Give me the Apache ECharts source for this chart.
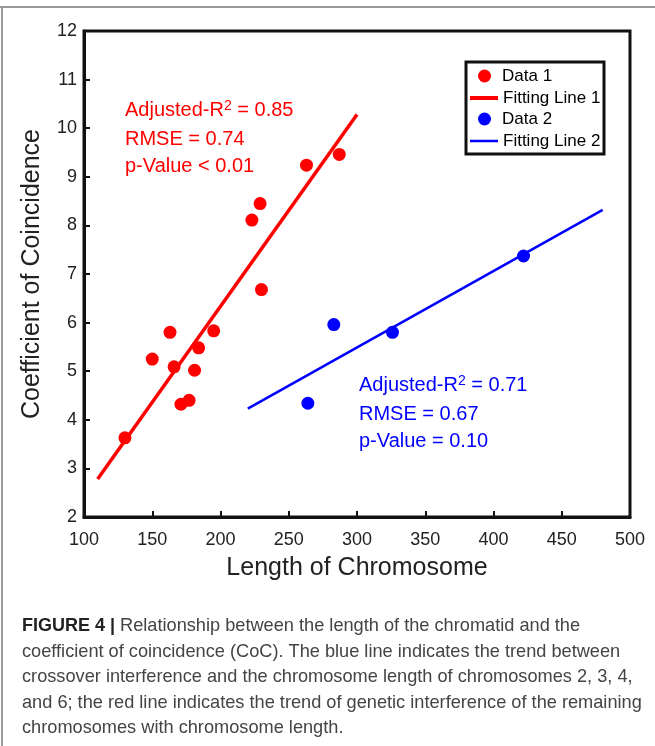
<!DOCTYPE html>
<html>
<head>
<meta charset="UTF-8">
<title>Coefficient of Coincidence vs Length of Chromosome</title>
<script src="https://cdn.jsdelivr.net/npm/echarts@6/dist/echarts.min.js"></script>
<style>
  html, body { margin: 0; padding: 0; background: #fff; }
  #main { width: 655px; height: 746px; }
</style>
</head>
<body>
<div id="main"></div>
<script>
// values
var data1 = [
  [130, 3.63], [150, 5.25], [163, 5.80], [166, 5.09], [171, 4.32],
  [177, 4.40], [181, 5.02], [184, 5.48], [195, 5.83], [223, 8.11],
  [229, 8.45], [230, 6.68], [263, 9.24], [287, 9.46]
];
var data2 = [[264, 4.34], [283, 5.96], [326, 5.80], [422, 7.37]];
var fit1 = [[110, 2.78], [300, 10.28]];
var fit2 = [[220, 4.23], [480, 8.32]];

var stats1 = ['0.85', '0.74', '< 0.01'];
var stats2 = ['0.71', '0.67', '= 0.10'];

var caption = [
  'Relationship between the length of the chromatid and the',
  'coefficient of coincidence (CoC). The blue line indicates the trend between',
  'crossover interference and the chromosome length of chromosomes 2, 3, 4,',
  'and 6; the red line indicates the trend of genetic interference of the remaining',
  'chromosomes with chromosome length.'
];

var FONT = "'Liberation Sans', Arial, sans-serif";
var myChart = echarts.init(document.getElementById('main'));

// red / blue fit statistics
function statsText(x, y, vals, color) {
  var rich = {
    n: { fontSize: 20, lineHeight: 22, fontFamily: FONT, fill: color },
    s: { fontSize: 14, lineHeight: 14, fontFamily: FONT, fill: color, verticalAlign: 'top' }
  };
  return [
    { type: 'text', x: x, y: y, style: { text: '{n|Adjusted-R}{s|2}{n| = ' + vals[0] + '}', rich: rich, verticalAlign: 'middle' } },
    { type: 'text', x: x, y: y + 29, style: { text: 'RMSE = ' + vals[1], fontSize: 20, fontFamily: FONT, fill: color, verticalAlign: 'middle' } },
    { type: 'text', x: x, y: y + 56, style: { text: 'p-Value ' + vals[2], fontSize: 20, fontFamily: FONT, fill: color, verticalAlign: 'middle' } }
  ];
}

var graphics = [
  { type: 'line', shape: { x1: 0, y1: 7, x2: 655, y2: 7 }, style: { stroke: '#9a9a9a', lineWidth: 2 } },
  { type: 'line', shape: { x1: 2, y1: 7, x2: 2, y2: 746 }, style: { stroke: '#9a9a9a', lineWidth: 2 } },
  // legend frame
  { type: 'rect', shape: { x: 466, y: 62, width: 138, height: 92 }, style: { fill: 'none', stroke: '#111', lineWidth: 3 } }
];
graphics = graphics.concat(statsText(125, 110, stats1, '#ff0000'));
graphics = graphics.concat(statsText(359, 385, stats2, '#0000ff'));

for (var i = 0; i < caption.length; i++) {
  var txt = i === 0 ? '{b|FIGURE 4 | }{n|' + caption[i] + '}' : '{n|' + caption[i] + '}';
  graphics.push({
    type: 'text', x: 22, y: 626 + i * 25.6,
    style: {
      text: txt, verticalAlign: 'middle',
      rich: {
        b: { fontSize: 18, fontWeight: 'bold', fontFamily: FONT, fill: '#222' },
        n: { fontSize: 18.2, fontFamily: FONT, fill: '#444' }
      }
    }
  });
}

var legendText = { fontSize: 17, lineHeight: 20, color: '#000', fontFamily: FONT };

var option = {
  animation: false,
  backgroundColor: '#fff',
  grid: { left: 84, top: 31, width: 546, height: 486, show: true, borderColor: '#111', borderWidth: 3 },
  xAxis: {
    type: 'value', min: 100, max: 500, interval: 50,
    axisLine: { show: true, lineStyle: { color: '#111', width: 3 } },
    axisTick: { inside: true, length: 6, lineStyle: { color: '#111', width: 2 } },
    axisLabel: { fontSize: 18, color: '#222', margin: 14, fontFamily: FONT },
    splitLine: { show: false },
    name: 'Length of Chromosome', nameLocation: 'middle', nameGap: 39,
    nameTextStyle: { fontSize: 25, color: '#222', fontFamily: FONT }
  },
  yAxis: {
    type: 'value', min: 2, max: 12, interval: 1,
    axisLine: { show: true, lineStyle: { color: '#111', width: 3 } },
    axisTick: { inside: true, length: 6, lineStyle: { color: '#111', width: 2 } },
    axisLabel: { fontSize: 18, color: '#222', margin: 7, fontFamily: FONT },
    splitLine: { show: false },
    name: 'Coefficient of Coincidence', nameLocation: 'middle', nameGap: 39,
    nameTextStyle: { fontSize: 25, color: '#222', fontFamily: FONT }
  },
  legend: [
    {
      data: ['Data 1', 'Data 2'], orient: 'vertical', left: 478, top: 66, padding: 0,
      itemWidth: 13, itemHeight: 13, itemGap: 23, icon: 'circle', selectedMode: false,
      textStyle: Object.assign({ padding: [0, 0, 0, 6] }, legendText)
    },
    {
      data: ['Fitting Line 1'], orient: 'vertical', left: 470, top: 88, padding: 0,
      itemWidth: 28, itemHeight: 4, icon: 'rect', selectedMode: false, textStyle: legendText
    },
    {
      data: ['Fitting Line 2'], orient: 'vertical', left: 470, top: 131, padding: 0,
      itemWidth: 28, itemHeight: 2.5, icon: 'rect', selectedMode: false, textStyle: legendText
    }
  ],
  series: [
    { name: 'Data 1', type: 'scatter', data: data1, symbolSize: 13, itemStyle: { color: '#ff0000', opacity: 1 }, z: 5 },
    { name: 'Fitting Line 1', type: 'line', data: fit1, symbol: 'none', lineStyle: { color: '#ff0000', width: 3.5 }, itemStyle: { color: '#ff0000' }, z: 3 },
    { name: 'Data 2', type: 'scatter', data: data2, symbolSize: 13, itemStyle: { color: '#0000ff', opacity: 1 }, z: 5 },
    { name: 'Fitting Line 2', type: 'line', data: fit2, symbol: 'none', lineStyle: { color: '#0000ff', width: 2.5 }, itemStyle: { color: '#0000ff' }, z: 3 }
  ],
  graphic: graphics
};

myChart.setOption(option);
</script>
</body>
</html>
